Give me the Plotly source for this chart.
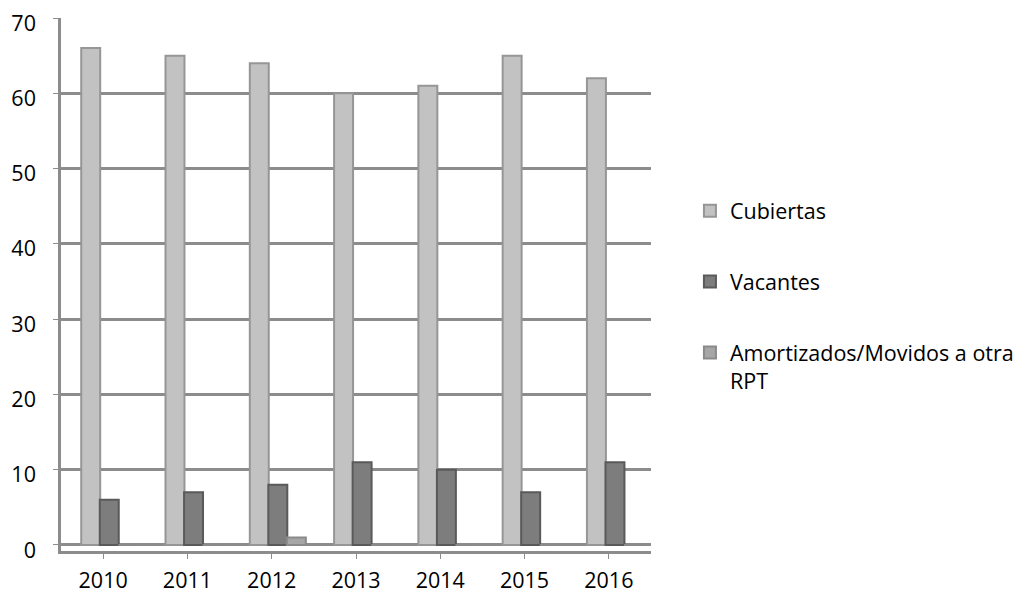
import plotly.graph_objects as go

years = ["2010", "2011", "2012", "2013", "2014", "2015", "2016"]
cubiertas = [66, 65, 64, 60, 61, 65, 62]
vacantes = [6, 7, 8, 11, 10, 7, 11]
amortizados = [0, 0, 1, 0, 0, 0, 0]

# name, values, fill, edge, offset within category (category units)
series = [
    ("Cubiertas", cubiertas, "#c2c2c2", "#969696", -0.26),
    ("Vacantes", vacantes, "#7d7d7d", "#5a5a5a", -0.04),
    ("Amortizados/Movidos a otra<br>RPT", amortizados, "#a6a6a6", "#8a8a8a", 0.18),
]
BAR_W = 0.225

FONT = "Open Sans"
FS = 21.5
fig = go.Figure()
for i, (name, vals, col, edge, off) in enumerate(series):
    fig.add_trace(go.Bar(
        x=years, y=vals, name=name, legendgroup=str(i),
        offset=off, width=BAR_W,
        marker=dict(color=col, line=dict(color=edge, width=2)),
    ))

fig.update_layout(
    width=1025, height=588,
    paper_bgcolor="white", plot_bgcolor="white",
    margin=dict(l=53, r=382, t=10, b=45, autoexpand=False),
    barmode="overlay",
    font=dict(family=FONT, size=FS, color="#000000"),
    showlegend=True,
    legend=dict(x=1.066, y=0.677, xanchor="left", yanchor="top",
                tracegroupgap=40, valign="top",
                font=dict(family=FONT, size=FS, color="#000000"),
                bgcolor="rgba(0,0,0,0)"),
    xaxis=dict(showline=True, linecolor="#8c8c8c", linewidth=2.5,
               ticks="outside", ticklen=5, tickcolor="#8c8c8c",
               showgrid=False, ticklabelstandoff=3,
               tickfont=dict(family=FONT, size=FS, color="#000000")),
    yaxis=dict(range=[-0.8, 70], tickvals=[0, 10, 20, 30, 40, 50, 60, 70],
               showline=True, linecolor="#8c8c8c", linewidth=2.5,
               ticks="outside", ticklen=5, tickcolor="#8c8c8c",
               showgrid=True, gridcolor="#8c8c8c", gridwidth=2.5,
               zeroline=False, ticklabelstandoff=13, ticklabelshift=5,
               ticklabeloverflow="allow",
               tickfont=dict(family=FONT, size=FS, color="#000000")),
)

fig.write_html("out.html")
